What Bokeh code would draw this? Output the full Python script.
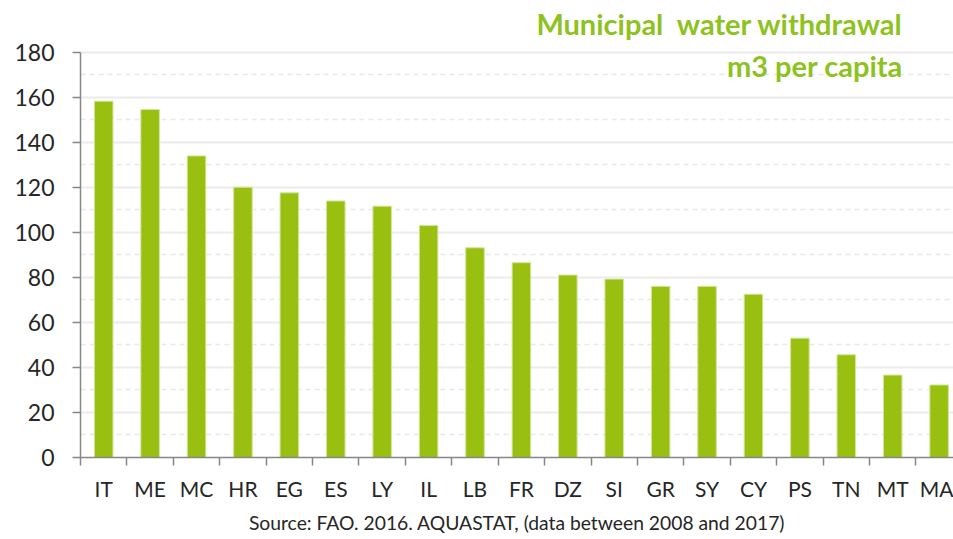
from bokeh.plotting import figure
from bokeh.models import Range1d, FixedTicker, Label, Title
from bokeh.embed import file_html
from bokeh.resources import INLINE

countries = ["IT", "ME", "MC", "HR", "EG", "ES", "LY", "IL", "LB", "FR",
             "DZ", "SI", "GR", "SY", "CY", "PS", "TN", "MT", "MA"]
values = [158.2, 154.5, 133.9, 120.0, 117.5, 113.9, 111.6, 103.0, 93.1, 86.5,
          81.0, 79.2, 76.0, 76.0, 72.5, 53.0, 45.6, 36.6, 32.2]
y_ticks = [0, 20, 40, 60, 80, 100, 120, 140, 160, 180]
y_minor = [10, 30, 50, 70, 90, 110, 130, 150, 170]
title_lines = ["Municipal\u00a0\u00a0water withdrawal", "m3 per capita"]
source_text = "Source: FAO. 2016. AQUASTAT, (data between 2008 and 2017)"

idx = list(range(len(countries)))

p = figure(width=953, height=539, output_backend="svg", toolbar_location=None,
           x_range=Range1d(-0.5, 18.31), y_range=Range1d(0, 202.9),
           min_border_left=80, min_border_right=0, min_border_top=0,
           min_border_bottom=82)
p.outline_line_color = None
p.background_fill_color = "white"
p.border_fill_color = "white"

p.vbar(x=idx, top=values, width=0.4, fill_color="#99BF10",
       line_color="#D2E79A", line_width=1)

font = "Lato"
# y axis
ya = p.yaxis[0]
ya.ticker = FixedTicker(ticks=y_ticks, minor_ticks=y_minor)
ya.bounds = (0, 180)
ya.axis_line_color = "#868686"
ya.axis_line_width = 1.5
ya.major_tick_line_color = "#868686"
ya.major_tick_line_width = 1.5
ya.major_tick_out = 8
ya.major_tick_in = 0
ya.minor_tick_line_color = None
ya.major_label_text_font = font
ya.major_label_text_font_size = "23px"
ya.major_label_text_color = "#262626"
ya.major_label_standoff = 18

# x axis
xa = p.xaxis[0]
xa.ticker = FixedTicker(ticks=idx, minor_ticks=[i - 0.5 for i in range(len(countries) + 1)])
xa.major_label_overrides = {i: c for i, c in enumerate(countries)}
xa.axis_line_color = "#868686"
xa.axis_line_width = 1.5
xa.major_tick_line_color = None
xa.major_tick_out = 0
xa.major_tick_in = 0
xa.minor_tick_line_color = "#868686"
xa.minor_tick_line_width = 1.5
xa.minor_tick_out = 8
xa.minor_tick_in = 0
xa.major_label_text_font = font
xa.major_label_text_font_size = "21px"
xa.major_label_text_color = "#262626"
xa.major_label_standoff = 10

# grids
p.xgrid.grid_line_color = None
p.ygrid.ticker = FixedTicker(ticks=y_ticks, minor_ticks=y_minor)
p.ygrid.bounds = (0, 180)
p.ygrid.grid_line_color = "#EBEBEB"
p.ygrid.grid_line_width = 2
p.ygrid.minor_grid_line_color = "#E8E8E8"
p.ygrid.minor_grid_line_width = 1.5
p.ygrid.minor_grid_line_dash = "5 4"

# titles
tcol = "#8DC21F"
p.add_layout(Label(x=17.22, y=192.8, text=title_lines[0], text_align="right",
                   text_baseline="middle", text_font=font, text_font_size="29px",
                   text_font_style="bold", text_color=tcol))
p.add_layout(Label(x=17.22, y=174.0, text=title_lines[1], text_align="right",
                   text_baseline="middle", text_font=font, text_font_size="29px",
                   text_font_style="bold", text_color=tcol))

src = Title(text=source_text, align="center", text_font=font,
            text_font_size="19.3px", text_font_style="normal",
            text_color="#262626", standoff=11)
p.add_layout(src, "below")

open("out.html", "w").write(file_html(p, INLINE))
